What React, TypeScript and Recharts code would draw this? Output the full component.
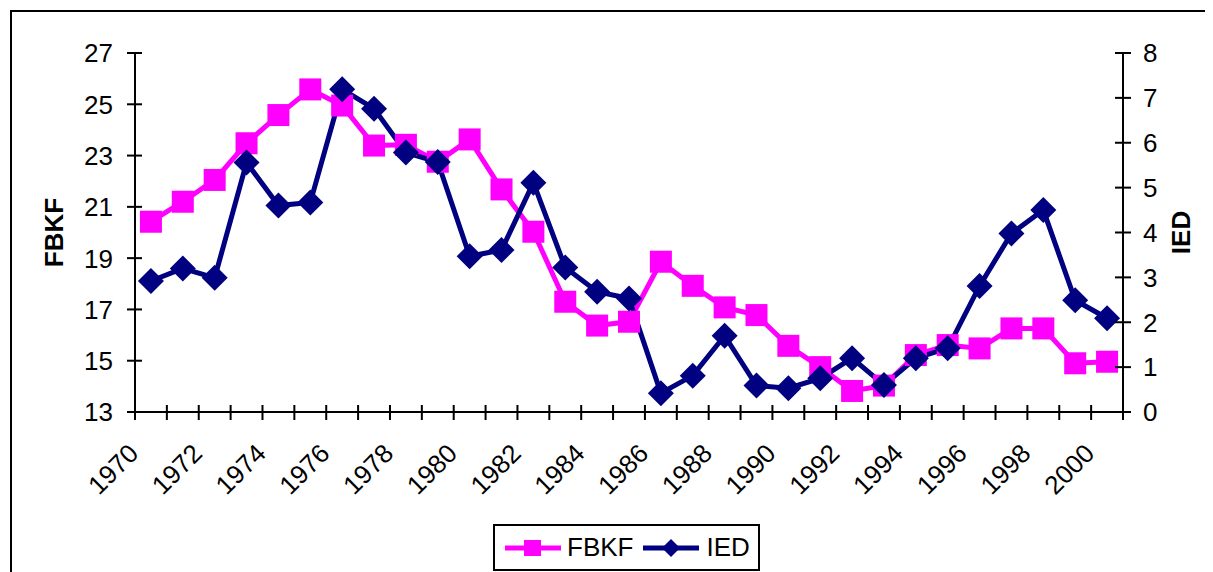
import React from "react";
import { LineChart, Line, XAxis, YAxis, Legend } from "recharts";

const years = [
  1970, 1971, 1972, 1973, 1974, 1975, 1976, 1977, 1978, 1979, 1980, 1981, 1982, 1983, 1984, 1985,
  1986, 1987, 1988, 1989, 1990, 1991, 1992, 1993, 1994, 1995, 1996, 1997, 1998, 1999, 2000,
];
const fbkf = [
  20.42, 21.2, 22.05, 23.48, 24.58, 25.58, 24.95, 23.39, 23.42, 22.76, 23.63, 21.68, 20.03, 17.3,
  16.37, 16.52, 18.86, 17.92, 17.08, 16.78, 15.58, 14.75, 13.82, 14.03, 15.22, 15.61, 15.48,
  16.26, 16.26, 14.9, 14.96,
];
const ied = [
  2.92, 3.2, 2.99, 5.56, 4.6, 4.67, 7.19, 6.76, 5.78, 5.57, 3.47, 3.61, 5.11, 3.22, 2.68, 2.53,
  0.42, 0.81, 1.7, 0.59, 0.53, 0.75, 1.2, 0.6, 1.2, 1.42, 2.81, 3.98, 4.5, 2.49, 2.09,
];
const leftTicks = [13, 15, 17, 19, 21, 23, 25, 27];
const rightTicks = [0, 1, 2, 3, 4, 5, 6, 7, 8];
// tick marks sit between the categories, labels on every other year
const boundaries = [...years.map((y) => y - 0.5), years[years.length - 1] + 0.5];

const data = years.map((year, i) => ({ year, FBKF: fbkf[i], IED: ied[i] }));

const PINK = "#FF00FF";
const NAVY = "#000080";
const FONT = "Arial, 'Liberation Sans', sans-serif";
const FS = 26;
const HALF_BAND = 988 / 31 / 2;
const TICK_COLOR = "#000";

function SquareDot(props: any) {
  const { cx, cy } = props;
  if (cx == null || cy == null) return null;
  return <rect x={cx - 11} y={cy - 11} width={22} height={22} fill={PINK} />;
}

function DiamondDot(props: any) {
  const { cx, cy } = props;
  if (cx == null || cy == null) return null;
  const r = 13;
  return (
    <polygon
      points={`${cx},${cy - r} ${cx + r},${cy} ${cx},${cy + r} ${cx - r},${cy}`}
      fill={NAVY}
    />
  );
}

// x ticks cross the axis line; label the even years
function YearTick(props: any) {
  const { x, y, payload } = props;
  const year = payload.value + 0.5;
  const showLabel = year % 2 === 0 && year <= 2000;
  const ax = x + HALF_BAND - 11;
  const ay = y + 43;
  return (
    <g>
      <rect x={x - 1} y={y - 7} width={2} height={15} fill={TICK_COLOR} />
      {showLabel && (
        <text
          x={ax}
          y={ay}
          textAnchor="end"
          fontSize={FS}
          fontFamily={FONT}
          fill="#000"
          transform={`rotate(-45, ${ax}, ${ay})`}
        >
          {year}
        </text>
      )}
    </g>
  );
}

function LeftTick(props: any) {
  const { x, y, payload } = props;
  return (
    <g>
      <rect x={x - 8} y={y - 1} width={15} height={2} fill={TICK_COLOR} />
      <text x={x - 22} y={y} dy="0.36em" textAnchor="end" fontSize={FS} fontFamily={FONT} fill="#000">
        {payload.value}
      </text>
    </g>
  );
}

function RightTick(props: any) {
  const { x, y, payload } = props;
  return (
    <g>
      <rect x={x - 8} y={y - 1} width={16} height={2} fill={TICK_COLOR} />
      <text x={x + 20} y={y} dy="0.36em" textAnchor="start" fontSize={FS} fontFamily={FONT} fill="#000">
        {payload.value}
      </text>
    </g>
  );
}

function LegendBox() {
  return (
    <div
      style={{
        width: 263,
        height: 43,
        border: "2px solid #000",
        background: "#fff",
        display: "flex",
        alignItems: "center",
        fontFamily: FONT,
        fontSize: FS,
        boxSizing: "content-box",
      }}
    >
      <svg width={58} height={20} style={{ marginLeft: 10 }}>
        <line x1={0} y1={10} x2={56} y2={10} stroke={PINK} strokeWidth={5} />
        <rect x={19} y={2} width={17} height={16} fill={PINK} />
      </svg>
      <span style={{ marginLeft: 4 }}>FBKF</span>
      <svg width={58} height={20} style={{ marginLeft: 10 }}>
        <line x1={0} y1={10} x2={56} y2={10} stroke={NAVY} strokeWidth={5} />
        <polygon points="28,1 37,10 28,19 19,10" fill={NAVY} />
      </svg>
      <span style={{ marginLeft: 5 }}>IED</span>
    </div>
  );
}

export default function App() {
  return (
    <div
      style={{
        position: "relative",
        width: 1205,
        height: 564,
        overflow: "hidden",
        background: "#fff",
      }}
    >
      <div
        style={{
          position: "absolute",
          left: 2,
          top: 2,
          width: 1300,
          height: 700,
          borderLeft: "2px solid #000",
          borderTop: "2px solid #000",
        }}
      />
      <LineChart
        width={1205}
        height={564}
        data={data}
        margin={{ top: 45, right: 0, bottom: 50, left: 0 }}
        style={{ position: "absolute", left: 0, top: 0 }}
      >
        <XAxis
          dataKey="year"
          type="number"
          domain={[1969.5, 2000.5]}
          ticks={boundaries}
          interval={0}
          height={110}
          tickSize={0}
          tickMargin={0}
          tickLine={false}
          axisLine={{ stroke: "#000", strokeWidth: 2 }}
          tick={<YearTick />}
        />
        <YAxis
          yAxisId="left"
          domain={[13, 27]}
          ticks={leftTicks}
          interval={0}
          width={127}
          tickSize={0}
          tickMargin={0}
          tickLine={false}
          axisLine={{ stroke: "#000", strokeWidth: 2 }}
          tick={<LeftTick />}
          label={{
            value: "FBKF",
            angle: -90,
            position: "insideLeft",
            offset: 46,
            style: { fill: "#000", fontSize: FS, fontWeight: "bold", fontFamily: FONT, textAnchor: "middle" },
          }}
        />
        <YAxis
          yAxisId="right"
          orientation="right"
          domain={[0, 8]}
          ticks={rightTicks}
          interval={0}
          width={90}
          tickSize={0}
          tickMargin={0}
          tickLine={false}
          axisLine={{ stroke: "#000", strokeWidth: 2 }}
          tick={<RightTick />}
          label={{
            value: "IED",
            angle: -90,
            position: "insideRight",
            offset: 32,
            style: { fill: "#000", fontSize: FS, fontWeight: "bold", fontFamily: FONT, textAnchor: "middle" },
          }}
        />
        <Line
          yAxisId="left"
          dataKey="FBKF"
          stroke={PINK}
          strokeWidth={5}
          dot={<SquareDot />}
          activeDot={false}
          isAnimationActive={false}
        />
        <Line
          yAxisId="right"
          dataKey="IED"
          stroke={NAVY}
          strokeWidth={5}
          dot={<DiamondDot />}
          activeDot={false}
          isAnimationActive={false}
        />
        <Legend
          verticalAlign="middle"
          align="center"
          wrapperStyle={{ position: "absolute", left: 485, top: 516, width: 267 }}
          content={() => <LegendBox />}
        />
      </LineChart>
    </div>
  );
}
